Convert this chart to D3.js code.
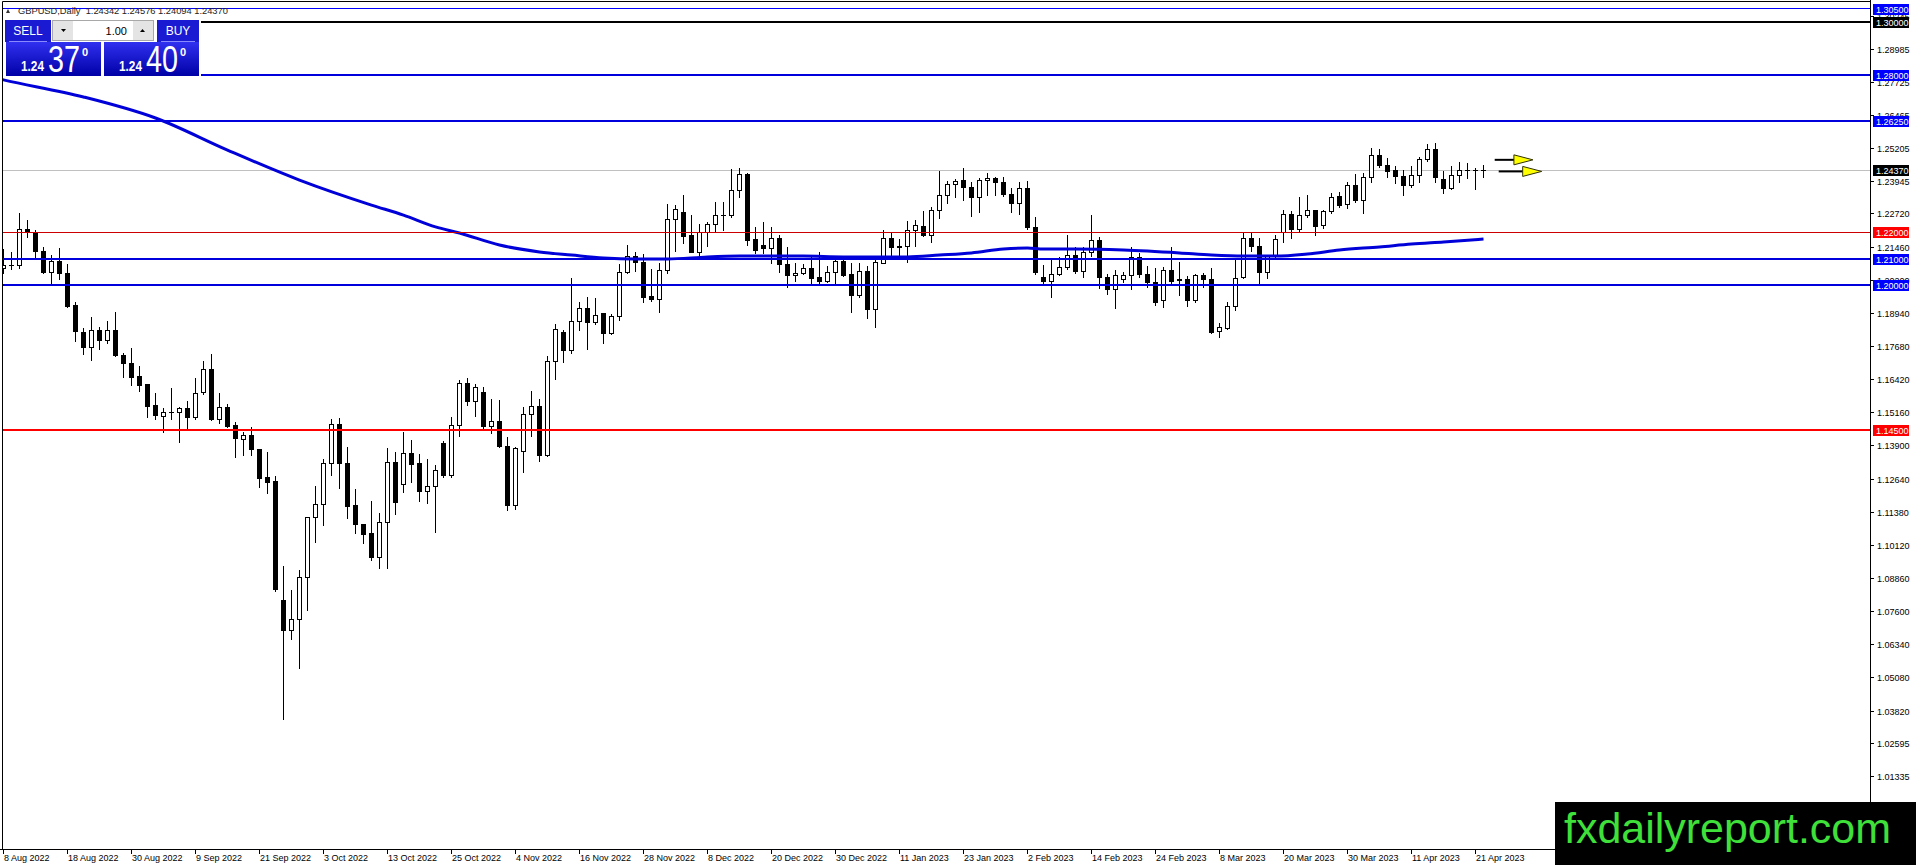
<!DOCTYPE html>
<html>
<head>
<meta charset="utf-8">
<script src="https://cdn.jsdelivr.net/npm/d3@7"></script>
<style>
  html, body { margin: 0; padding: 0; background: #fff; overflow: hidden; }
  svg { display: block; }
</style>
</head>
<body>
<div id="chart"></div>
<script>
// GBPUSD daily, 8 Aug 2022 .. 24 Apr 2023 (one entry per trading day)
const opens = [
  1.2064,1.2076,1.2075,1.2212,1.2197,1.2128,1.2047,1.2091,1.2045,1.1924,
  1.1819,1.1763,1.1829,1.1789,1.1829,1.1734,1.1702,1.1652,1.1620,1.1543,
  1.1501,1.1515,1.1516,1.1531,1.1496,1.1591,1.1680,1.1490,1.1535,1.1465,
  1.1414,1.1429,1.1376,1.1267,1.1254,1.0799,1.0686,1.0729,1.0889,1.1117,
  1.1164,1.1320,1.1471,1.1322,1.1160,1.1089,1.1054,1.0964,1.1097,1.1326,
  1.1240,1.1358,1.1320,1.1217,1.1236,1.1396,1.1275,1.1465,1.1626,1.1557,
  1.1592,1.1462,1.1481,1.1386,1.1163,1.1367,1.1509,1.1540,1.1351,1.1711,
  1.1820,1.1750,1.1861,1.1912,1.1857,1.1890,1.1816,1.1882,1.2048,1.2108,
  1.2086,1.1955,1.1946,1.2056,1.2250,1.2275,1.2187,1.2124,1.2199,1.2231,
  1.2263,1.2264,1.2359,1.2422,1.2174,1.2150,1.2138,1.2178,1.2079,1.2036,
  1.2045,1.2061,1.2028,1.2015,1.2047,1.2091,1.2041,1.1960,1.2053,1.1908,
  1.2083,1.2178,1.2143,1.2146,1.2206,1.2224,1.2190,1.2285,1.2342,1.2383,
  1.2396,1.2371,1.2333,1.2397,1.2406,1.2389,1.2345,1.2311,1.2368,1.2219,
  1.2029,1.2013,1.2041,1.2067,1.2112,1.2051,1.2123,1.2171,1.2028,1.1984,
  1.2022,1.2037,1.2105,1.2041,1.2010,1.1941,1.2057,1.2022,1.2022,1.1941,
  1.2038,1.2022,1.1822,1.1835,1.1918,1.2029,1.2178,1.2148,1.2047,1.2108,
  1.2199,1.2269,1.2212,1.2266,1.2285,1.2228,1.2279,1.2336,1.2308,1.2380,
  1.2323,1.2410,1.2494,1.2456,1.2434,1.2412,1.2377,1.2418,1.2478,1.2516,
  1.2402,1.2368,1.2418,1.2434,1.2436,1.24342
];
const highs = [
  1.2136,1.2127,1.2273,1.2247,1.2209,1.2143,1.2114,1.2142,1.2080,1.1937,
  1.1835,1.1877,1.1839,1.1863,1.1898,1.1740,1.1762,1.1694,1.1624,1.1590,
  1.1534,1.1607,1.1538,1.1559,1.1645,1.1711,1.1738,1.1590,1.1548,1.1478,
  1.1443,1.1459,1.1378,1.1364,1.1274,1.0932,1.0841,1.0917,1.1119,1.1236,
  1.1337,1.1490,1.1493,1.1383,1.1223,1.1090,1.1179,1.1132,1.1379,1.1364,
  1.1440,1.1411,1.1358,1.1337,1.1316,1.1408,1.1497,1.1639,1.1645,1.1623,
  1.1611,1.1566,1.1563,1.1421,1.1386,1.1538,1.1597,1.1566,1.1730,1.1852,
  1.1829,1.2026,1.1937,1.1953,1.1950,1.1895,1.1889,1.2079,1.2152,1.2127,
  1.2118,1.2061,1.2083,1.2308,1.2304,1.2342,1.2266,1.2232,1.2241,1.2317,
  1.2317,1.2440,1.2444,1.2425,1.2219,1.2241,1.2219,1.2190,1.2146,1.2083,
  1.2081,1.2110,1.2124,1.2074,1.2105,1.2095,1.2083,1.2083,1.2074,1.2108,
  1.2209,1.2197,1.2174,1.2243,1.2247,1.2283,1.2295,1.2435,1.2397,1.2403,
  1.2444,1.2393,1.2406,1.2425,1.2412,1.2412,1.2368,1.2391,1.2397,1.2260,
  1.2076,1.2098,1.2105,1.2190,1.2146,1.2146,1.2266,1.2181,1.2042,1.2057,
  1.2051,1.2146,1.2120,1.2072,1.2064,1.2070,1.2143,1.2089,1.2034,1.2041,
  1.2047,1.2064,1.1857,1.1937,1.2102,1.2197,1.2199,1.2178,1.2114,1.2190,
  1.2285,1.2283,1.2336,1.2342,1.2285,1.2285,1.2349,1.2355,1.2393,1.2422,
  1.2425,1.2520,1.2516,1.2482,1.2453,1.2437,1.2453,1.2488,1.2536,1.2541,
  1.2435,1.2453,1.2469,1.2463,1.2444,1.24576
];
const lows = [
  1.2045,1.2060,1.2064,1.2181,1.2102,1.2045,1.2007,1.2023,1.1918,1.1787,
  1.1738,1.1715,1.1756,1.1781,1.1730,1.1649,1.1620,1.1599,1.1497,1.1492,
  1.1443,1.1491,1.1405,1.1455,1.1491,1.1586,1.1487,1.1477,1.1459,1.1348,
  1.1354,1.1354,1.1234,1.1211,1.0838,1.0349,1.0654,1.0543,1.0765,1.1024,
  1.1088,1.1278,1.1227,1.1113,1.1056,1.1021,1.0955,1.0923,1.0924,1.1130,
  1.1212,1.1253,1.1180,1.1170,1.1060,1.1269,1.1269,1.1427,1.1544,1.1503,
  1.1452,1.1436,1.1384,1.1145,1.1150,1.1291,1.1427,1.1332,1.1349,1.1644,
  1.1709,1.1740,1.1829,1.1757,1.1852,1.1778,1.1814,1.1867,1.2045,1.2055,
  1.1937,1.1941,1.1899,1.2047,1.2131,1.2159,1.2124,1.2105,1.2148,1.2203,
  1.2209,1.2260,1.2336,1.2152,1.2121,1.2121,1.2083,1.2051,1.1991,1.2017,
  1.2042,1.2006,1.2006,1.2010,1.2006,1.2034,1.1899,1.1956,1.1873,1.1839,
  1.2083,1.2110,1.2108,1.2086,1.2148,1.2187,1.2165,1.2254,1.2311,1.2336,
  1.2323,1.2263,1.2279,1.2342,1.2342,1.2339,1.2279,1.2269,1.2213,1.2042,
  1.2004,1.1956,1.2038,1.2061,1.2047,1.2029,1.2110,1.1988,1.1965,1.1912,
  1.2013,1.1984,1.2032,1.1991,1.1924,1.1918,1.2009,1.1962,1.1920,1.1937,
  1.1991,1.1819,1.1801,1.1832,1.1905,1.2026,1.2129,1.2003,1.2026,1.2102,
  1.2165,1.2178,1.2207,1.2260,1.2190,1.2216,1.2275,1.2295,1.2291,1.2317,
  1.2273,1.2393,1.2448,1.2412,1.2389,1.2342,1.2374,1.2393,1.2473,1.2393,
  1.2349,1.2364,1.2390,1.2407,1.2364,1.24094
];
const closes = [
  1.2076,1.2075,1.2212,1.2199,1.2127,1.2047,1.2091,1.2042,1.1920,1.1823,
  1.1763,1.1829,1.1789,1.1829,1.1734,1.1700,1.1648,1.1618,1.1538,1.1503,
  1.1514,1.1516,1.1531,1.1496,1.1586,1.1680,1.1490,1.1535,1.1464,1.1416,
  1.1427,1.1376,1.1265,1.1250,1.0841,1.0686,1.0729,1.0889,1.1117,1.1164,
  1.1320,1.1471,1.1320,1.1158,1.1089,1.1050,1.0964,1.1097,1.1326,1.1172,
  1.1358,1.1318,1.1215,1.1234,1.1294,1.1275,1.1465,1.1626,1.1557,1.1611,
  1.1462,1.1481,1.1386,1.1160,1.1379,1.1509,1.1538,1.1351,1.1711,1.1832,
  1.1750,1.1861,1.1912,1.1857,1.1885,1.1816,1.1882,1.2048,1.2108,1.2086,
  1.1952,1.1946,1.2056,1.2250,1.2288,1.2184,1.2124,1.2199,1.2231,1.2263,
  1.2264,1.2359,1.2422,1.2171,1.2133,1.2138,1.2178,1.2079,1.2036,1.2045,
  1.2061,1.2026,1.2015,1.2047,1.2089,1.2038,1.1960,1.2053,1.1908,1.2086,
  1.2178,1.2143,1.2146,1.2206,1.2227,1.2190,1.2285,1.2342,1.2383,1.2393,
  1.2370,1.2333,1.2397,1.2406,1.2389,1.2345,1.2311,1.2368,1.2218,1.2047,
  1.2013,1.2041,1.2067,1.2112,1.2051,1.2123,1.2171,1.2028,1.1984,1.2038,
  1.2037,1.2105,1.2041,1.2009,1.1933,1.2057,1.2013,1.2016,1.1941,1.2038,
  1.2022,1.1819,1.1840,1.1918,1.2026,1.2178,1.2148,1.2047,1.2108,1.2174,
  1.2269,1.2212,1.2266,1.2283,1.2224,1.2279,1.2332,1.2304,1.2380,1.2323,
  1.2410,1.2494,1.2456,1.2431,1.2412,1.2377,1.2418,1.2478,1.2516,1.2410,
  1.2368,1.2416,1.2434,1.2436,1.2434,1.24370
];

// moving average, sampled at bar indices
const maBars   = [-1, 0, 10, 19, 28, 37, 46, 50, 54, 57, 62, 67, 71, 75, 79, 83, 88, 92, 100, 105,
                  113, 117, 121, 125, 128, 130, 134, 140, 147, 151, 155, 159, 163, 167, 172, 176, 180, 185];
const maValues = [1.2787, 1.2780, 1.2715, 1.2635, 1.2513, 1.2399, 1.2304, 1.2266, 1.2221, 1.2198,
                  1.2152, 1.2126, 1.2114, 1.2103, 1.2099, 1.2099, 1.2107, 1.2110, 1.2110, 1.2107,
                  1.2107, 1.2114, 1.2122, 1.2137, 1.2141, 1.2137, 1.2137, 1.2133, 1.2122, 1.2114,
                  1.2110, 1.2110, 1.2118, 1.2133, 1.2145, 1.2156, 1.2164, 1.2175];

const dateTickLabels = [
  "8 Aug 2022", "18 Aug 2022", "30 Aug 2022", "9 Sep 2022", "21 Sep 2022", "3 Oct 2022",
  "13 Oct 2022", "25 Oct 2022", "4 Nov 2022", "16 Nov 2022", "28 Nov 2022", "8 Dec 2022",
  "20 Dec 2022", "30 Dec 2022", "11 Jan 2023", "23 Jan 2023", "2 Feb 2023", "14 Feb 2023",
  "24 Feb 2023", "8 Mar 2023", "20 Mar 2023", "30 Mar 2023", "11 Apr 2023", "21 Apr 2023"
];
const barsPerDateTick = 8;

const priceTicks = [
  1.30245, 1.28985, 1.27725, 1.26465, 1.25205, 1.23945, 1.22720, 1.21460, 1.20200, 1.18940,
  1.17680, 1.16420, 1.15160, 1.13900, 1.12640, 1.11380, 1.10120, 1.08860, 1.07600, 1.06340,
  1.05080, 1.03820, 1.02595, 1.01335
];

const levelPrices = [1.305, 1.30, 1.28, 1.2625, 1.22, 1.21, 1.20, 1.145];
const bidPrice = 1.24370;
const arrowPrices = [1.2476, 1.2432];
const arrowFromBars = [186.4, 186.9];
const arrowHeadBars = [188.8, 189.9];

const titleText = "GBPUSD,Daily  1.24342 1.24576 1.24094 1.24370";

// ---- styles ----
const levelColors = ["#0000ff", "#000000", "#0000dd", "#0000dd", "#cc0000", "#0000dd", "#0000dd", "#ff0000"];
const levelWidths = [1, 2, 2, 2, 1, 2, 2, 2];
const levelLabelFill = ["#0000ff", "#000000", "#0000ff", "#0000ff", "#ff0000", "#0000ff", "#0000ff", "#ff0000"];
const axisFont = "'Liberation Sans', Arial, sans-serif";

const W = 1916, H = 865;
const plotRight = 1870, plotBottom = 849;

const svg = d3.select("#chart").append("svg")
  .attr("width", W)
  .attr("height", H);

svg.append("rect").attr("width", W).attr("height", H).attr("fill", "#fff");

const defs = svg.append("defs");
defs.append("clipPath").attr("id", "plotClip")
  .append("rect").attr("x", 2).attr("y", 2)
  .attr("width", plotRight - 2).attr("height", plotBottom - 2);

const grad = defs.append("linearGradient").attr("id", "priceGrad")
  .attr("x1", 0).attr("y1", 0).attr("x2", 0).attr("y2", 1);
grad.append("stop").attr("offset", "0%").attr("stop-color", "#3030f0");
grad.append("stop").attr("offset", "100%").attr("stop-color", "#0000a6");

const x = d3.scaleLinear().domain([0, 185]).range([3.5, 1483.5]);
const y = d3.scaleLinear().domain([0.985599, 1.308364]).range([plotBottom, 0]);
const half = v => Math.round(v - 0.5) + 0.5;

const plot = svg.append("g").attr("clip-path", "url(#plotClip)");

// bid line
plot.append("line")
  .attr("x1", 2).attr("x2", plotRight)
  .attr("y1", half(y(bidPrice))).attr("y2", half(y(bidPrice)))
  .attr("stroke", "#c0c0c0").attr("stroke-width", 1);

// candles
const bars = opens.map((o, i) => ({ i, o, h: highs[i], l: lows[i], c: closes[i] }));

const candle = plot.append("g")
  .attr("shape-rendering", "crispEdges")
  .selectAll(".candle")
  .data(bars)
  .enter().append("g")
  .attr("class", "candle");

candle.append("line")
  .attr("x1", d => x(d.i)).attr("x2", d => x(d.i))
  .attr("y1", d => Math.round(y(d.h)))
  .attr("y2", d => Math.round(y(d.l)) + 1)
  .attr("stroke", "#000").attr("stroke-width", 1);

candle.append("path")
  .attr("d", d => {
    const cx = x(d.i);
    const top = half(y(Math.max(d.o, d.c)));
    const bot = half(y(Math.min(d.o, d.c)));
    if (bot - top < 1) return `M${cx - 2},${top}H${cx + 2}`;
    return `M${cx - 2},${top}H${cx + 2}V${bot}H${cx - 2}Z`;
  })
  .attr("fill", d => d.c >= d.o ? "#fff" : "#000")
  .attr("stroke", "#000")
  .attr("stroke-width", 1)
  .attr("stroke-linecap", "square");

// moving average
const maLine = d3.line()
  .x(d => x(d[0]))
  .y(d => y(d[1]))
  .curve(d3.curveMonotoneX);

plot.append("path")
  .datum(maBars.map((b, k) => [b, maValues[k]]))
  .attr("d", maLine)
  .attr("fill", "none")
  .attr("stroke", "#0000d8")
  .attr("stroke-width", 3);

// horizontal levels
plot.append("g").selectAll("line")
  .data(levelPrices)
  .enter().append("line")
  .attr("x1", 2).attr("x2", plotRight)
  .attr("y1", (d, k) => levelWidths[k] % 2 ? half(y(d)) : Math.round(y(d)))
  .attr("y2", (d, k) => levelWidths[k] % 2 ? half(y(d)) : Math.round(y(d)))
  .attr("stroke", (d, k) => levelColors[k])
  .attr("stroke-width", (d, k) => levelWidths[k]);

// yellow arrows
arrowPrices.forEach((p, k) => {
  const yy = y(p);
  const xs = x(arrowFromBars[k]);
  const xb = x(arrowHeadBars[k]);
  plot.append("line")
    .attr("x1", xs).attr("x2", xb + 2)
    .attr("y1", yy).attr("y2", yy)
    .attr("stroke", "#000").attr("stroke-width", 2);
  plot.append("path")
    .attr("d", `M${xb},${yy - 5}L${xb + 19},${yy}L${xb},${yy + 5}Z`)
    .attr("fill", "#ffff00")
    .attr("stroke", "#303000")
    .attr("stroke-width", 1);
});

// frame
svg.append("path")
  .attr("d", `M2.5,${plotBottom}V1.5H${plotRight}`)
  .attr("fill", "none").attr("stroke", "#000").attr("stroke-width", 1);

// right price axis
svg.append("line")
  .attr("x1", plotRight + 0.5).attr("x2", plotRight + 0.5)
  .attr("y1", 0).attr("y2", plotBottom + 1)
  .attr("stroke", "#000").attr("stroke-width", 1);

const yTicks = svg.append("g").selectAll("g")
  .data(priceTicks)
  .enter().append("g")
  .attr("transform", d => `translate(0,${Math.round(y(d))})`);

yTicks.append("line")
  .attr("x1", plotRight).attr("x2", plotRight + 4)
  .attr("y1", 0.5).attr("y2", 0.5)
  .attr("stroke", "#000");

yTicks.append("text")
  .attr("x", 1877).attr("y", 4)
  .attr("font-family", axisFont).attr("font-size", "9px")
  .attr("fill", "#000")
  .text(d => d.toFixed(5));

// price labels for levels and bid
const labelData = levelPrices.map((p, k) => ({ p, fill: levelLabelFill[k] }))
  .concat([{ p: bidPrice, fill: "#000" }]);

const tags = svg.append("g").selectAll("g")
  .data(labelData)
  .enter().append("g")
  .attr("transform", d => `translate(0,${Math.round(y(d.p))})`);

tags.append("rect")
  .attr("x", 1873).attr("y", -5)
  .attr("width", 36).attr("height", 11)
  .attr("fill", d => d.fill);

tags.append("text")
  .attr("x", 1876).attr("y", 4)
  .attr("font-family", axisFont).attr("font-size", "9px")
  .attr("fill", "#fff")
  .text(d => d.p.toFixed(5));

// bottom time axis
svg.append("line")
  .attr("x1", 0).attr("x2", plotRight + 1)
  .attr("y1", plotBottom + 0.5).attr("y2", plotBottom + 0.5)
  .attr("stroke", "#000");

const xTicks = svg.append("g").selectAll("g")
  .data(dateTickLabels)
  .enter().append("g")
  .attr("transform", (d, k) => `translate(${Math.floor(x(k * barsPerDateTick))},0)`);

xTicks.append("line")
  .attr("x1", 0.5).attr("x2", 0.5)
  .attr("y1", plotBottom).attr("y2", plotBottom + 5)
  .attr("stroke", "#000");

xTicks.append("text")
  .attr("x", 1).attr("y", 861)
  .attr("font-family", axisFont).attr("font-size", "9px")
  .attr("fill", "#000")
  .text(d => d);

// title
svg.append("path")
  .attr("d", "M6,13L10,13L8,9Z")
  .attr("fill", "#333");
svg.append("text")
  .attr("x", 18).attr("y", 14)
  .attr("font-family", axisFont).attr("font-size", "9.3px")
  .attr("fill", "#222")
  .attr("xml:space", "preserve")
  .style("white-space", "pre")
  .text(titleText);

// one-click trading panel
const panel = svg.append("g");
panel.append("rect").attr("x", 3).attr("y", 18).attr("width", 198).attr("height", 59).attr("fill", "#fff");

// price boxes
[[6, "37"], [104, "40"]].forEach(([bx, big]) => {
  panel.append("rect").attr("x", bx).attr("y", 42).attr("width", 95).attr("height", 34)
    .attr("fill", "url(#priceGrad)");
  panel.append("text").attr("x", bx + 15).attr("y", 71)
    .attr("font-family", axisFont).attr("font-weight", "bold").attr("font-size", "14px")
    .attr("fill", "#fff").attr("textLength", 23).attr("lengthAdjust", "spacingAndGlyphs")
    .text("1.24");
  panel.append("text").attr("x", bx + 42).attr("y", 72)
    .attr("font-family", axisFont).attr("font-size", "36px")
    .attr("fill", "#fff").attr("textLength", 32).attr("lengthAdjust", "spacingAndGlyphs")
    .text(big);
  panel.append("text").attr("x", bx + 76).attr("y", 56)
    .attr("font-family", axisFont).attr("font-weight", "bold").attr("font-size", "11px")
    .attr("fill", "#fff")
    .text("0");
});

// SELL / BUY buttons
[[5, 46, "SELL"], [157, 42, "BUY"]].forEach(([bx, bw, label]) => {
  panel.append("rect").attr("x", bx).attr("y", 20).attr("width", bw).attr("height", 22)
    .attr("fill", "#1a1ad2");
  panel.append("text").attr("x", bx + bw / 2).attr("y", 35)
    .attr("text-anchor", "middle")
    .attr("font-family", axisFont).attr("font-size", "12px")
    .attr("fill", "#fff")
    .text(label);
  panel.append("line").attr("x1", bx + 4).attr("x2", bx + bw - 4)
    .attr("y1", 41.5).attr("y2", 41.5)
    .attr("stroke", "#8a8aff").attr("stroke-width", 1);
});

// lots control
panel.append("rect").attr("x", 52.5).attr("y", 20.5).attr("width", 101).attr("height", 20)
  .attr("fill", "#fff").attr("stroke", "#a8a8a8");
panel.append("rect").attr("x", 53).attr("y", 21).attr("width", 20).attr("height", 19)
  .attr("fill", "#e4e4e4");
panel.append("rect").attr("x", 133).attr("y", 21).attr("width", 20).attr("height", 19)
  .attr("fill", "#e4e4e4");
panel.append("path").attr("d", "M61,29H66L63.5,32Z").attr("fill", "#000");
panel.append("path").attr("d", "M140,32H145L142.5,29Z").attr("fill", "#000");
panel.append("text").attr("x", 127).attr("y", 35)
  .attr("text-anchor", "end")
  .attr("font-family", axisFont).attr("font-size", "11px")
  .attr("fill", "#000")
  .text("1.00");

// watermark
svg.append("rect").attr("x", 1555).attr("y", 802).attr("width", W - 1555).attr("height", H - 802)
  .attr("fill", "#000");
svg.append("text").attr("x", 1564).attr("y", 843)
  .attr("font-family", axisFont).attr("font-size", "43px")
  .attr("fill", "#3fe03a")
  .attr("textLength", 327).attr("lengthAdjust", "spacingAndGlyphs")
  .text("fxdailyreport.com");
</script>
</body>
</html>
